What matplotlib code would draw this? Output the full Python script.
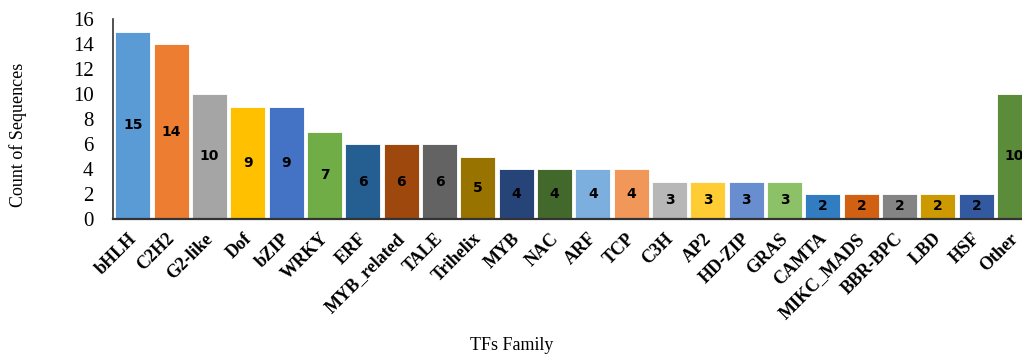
import matplotlib.pyplot as plt
import matplotlib.transforms as mtransforms

families = ["bHLH", "C2H2", "G2-like", "Dof", "bZIP", "WRKY", "ERF", "MYB_related",
            "TALE", "Trihelix", "MYB", "NAC", "ARF", "TCP", "C3H", "AP2", "HD-ZIP",
            "GRAS", "CAMTA", "MIKC_MADS", "BBR-BPC", "LBD", "HSF", "Other"]
counts = [15, 14, 10, 9, 9, 7, 6, 6, 6, 5, 4, 4, 4, 4, 3, 3, 3, 3, 2, 2, 2, 2, 2, 10]
colores = ["#5B9BD5", "#ED7D31", "#A5A5A5", "#FFC000", "#4472C4", "#70AD47",
           "#255E91", "#9E480E", "#636363", "#997300", "#264478", "#43682B",
           "#7CAFDD", "#F1975A", "#B7B7B7", "#FFCD33", "#698ED0", "#8CC168",
           "#327DC2", "#D26012", "#848484", "#CC9A00", "#335AA1", "#5B8C3A"]

fig = plt.figure(figsize=(10.22, 3.58), dpi=100)
# el eje se sale un poco por la derecha, como en el original
ax = fig.add_axes([113 / 1022, 1 - 219 / 358, 920 / 1022, 200 / 358])

x = range(len(families))
bars = ax.bar(x, counts, width=0.91, color=colores, edgecolor="white", linewidth=0.6)
ax.set_xlim(-0.52, len(families) - 0.52)
ax.set_ylim(0, 16)

# etiquetas dentro de las barras
for b, v in zip(bars, counts):
    ax.text(b.get_x() + b.get_width() / 2, v / 2, str(v), ha="center", va="center",
            fontsize=10, fontweight="bold", family="DejaVu Sans", color="black")

ax.set_yticks(range(0, 17, 2))
ax.set_yticklabels([str(t) for t in range(0, 17, 2)], family="Liberation Serif", fontsize=15)
ax.tick_params(axis="y", length=0, pad=14)
ax.set_xticks(list(x))
ax.set_xticklabels(families, rotation=45, ha="right", va="top", rotation_mode="anchor",
                   family="Liberation Serif", fontweight="bold", fontsize=13)
ax.tick_params(axis="x", length=0, pad=8)
# desplazar un poco las etiquetas a la izquierda para que "Other" no se corte
desplaz = mtransforms.ScaledTranslation(-5 / 100, 0, fig.dpi_scale_trans)
for lbl in ax.get_xticklabels():
    lbl.set_transform(lbl.get_transform() + desplaz)

for s in ["top", "right"]:
    ax.spines[s].set_visible(False)
ax.spines["left"].set_color("#333333")
ax.spines["bottom"].set_color("#333333")
ax.spines["bottom"].set_linewidth(1.6)
ax.spines["left"].set_linewidth(1.2)

fig.text(18 / 1022, 1 - 135 / 358, "Count of Sequences", rotation=90, ha="center", va="center",
         family="Liberation Serif", fontsize=13)
fig.text(512 / 1022, 1 - 346 / 358, "TFs Family", ha="center", va="center",
         family="Liberation Serif", fontsize=13)

fig.savefig("out.png", dpi=100)
